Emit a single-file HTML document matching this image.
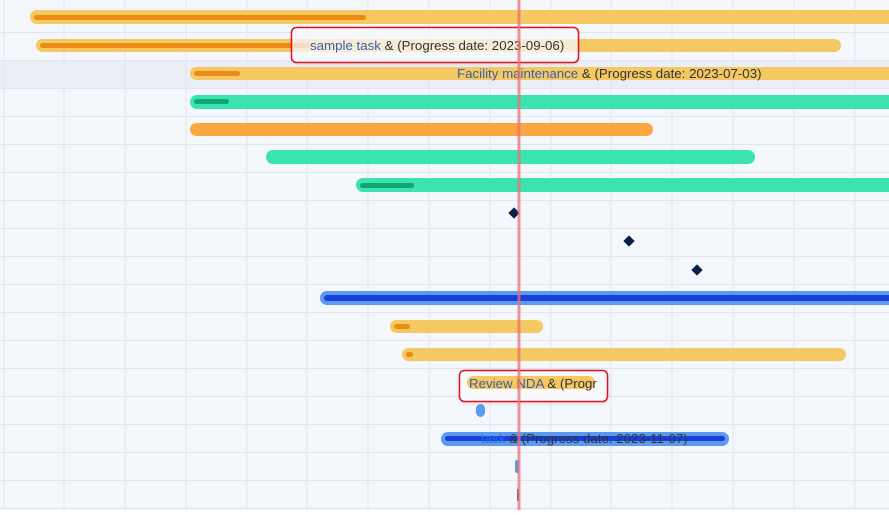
<!DOCTYPE html>
<html><head><meta charset="utf-8"><style>
html,body{margin:0;padding:0;background:#fff}
svg{display:block}
text{font-family:"Liberation Sans",sans-serif;font-size:13.3px}
</style></head><body>
<svg width="889" height="515" viewBox="0 0 889 515" xmlns="http://www.w3.org/2000/svg">
<defs><filter id="sh" x="-10%" y="-30%" width="120%" height="160%"><feDropShadow dx="0" dy="1" stdDeviation="2" flood-color="#000" flood-opacity="0.18"/></filter></defs>
<rect x="0" y="0" width="889" height="510" fill="#f4f8fc"/>
<rect x="0" y="60" width="889" height="28" fill="#ebeef4"/>
<g stroke="#e1e6ee" stroke-width="1">
<line x1="4" y1="0" x2="4" y2="510"/><line x1="64" y1="0" x2="64" y2="510"/><line x1="125" y1="0" x2="125" y2="510"/><line x1="186" y1="0" x2="186" y2="510"/><line x1="247" y1="0" x2="247" y2="510"/><line x1="307" y1="0" x2="307" y2="510"/><line x1="368" y1="0" x2="368" y2="510"/><line x1="429" y1="0" x2="429" y2="510"/><line x1="490" y1="0" x2="490" y2="510"/><line x1="551" y1="0" x2="551" y2="510"/><line x1="611" y1="0" x2="611" y2="510"/><line x1="672" y1="0" x2="672" y2="510"/><line x1="733" y1="0" x2="733" y2="510"/><line x1="794" y1="0" x2="794" y2="510"/><line x1="855" y1="0" x2="855" y2="510"/>
<line x1="0" y1="32.5" x2="889" y2="32.5"/><line x1="0" y1="60.5" x2="889" y2="60.5"/><line x1="0" y1="88.5" x2="889" y2="88.5"/><line x1="0" y1="116.5" x2="889" y2="116.5"/><line x1="0" y1="144.5" x2="889" y2="144.5"/><line x1="0" y1="172.5" x2="889" y2="172.5"/><line x1="0" y1="200.5" x2="889" y2="200.5"/><line x1="0" y1="228.5" x2="889" y2="228.5"/><line x1="0" y1="256.5" x2="889" y2="256.5"/><line x1="0" y1="284.5" x2="889" y2="284.5"/><line x1="0" y1="312.5" x2="889" y2="312.5"/><line x1="0" y1="340.5" x2="889" y2="340.5"/><line x1="0" y1="368.5" x2="889" y2="368.5"/><line x1="0" y1="396.5" x2="889" y2="396.5"/><line x1="0" y1="424.5" x2="889" y2="424.5"/><line x1="0" y1="452.5" x2="889" y2="452.5"/><line x1="0" y1="480.5" x2="889" y2="480.5"/><line x1="0" y1="508.5" x2="889" y2="508.5"/>
</g>
<rect x="30" y="10" width="880" height="14" rx="7" fill="#f5c862"/>
<rect x="34" y="15" width="332" height="5" rx="2.5" fill="#ea8b14"/>
<rect x="36" y="39" width="805" height="13" rx="6.5" fill="#f5c862"/>
<rect x="40" y="43" width="270" height="5" rx="2.5" fill="#ea8b14"/>
<rect x="190" y="67" width="720" height="13" rx="6.5" fill="#f5c862"/>
<rect x="194" y="71" width="46" height="5" rx="2.5" fill="#ea8b14"/>
<text x="457" y="78" fill="#3a5ea8">Facility maintenance <tspan fill="#333">&amp; (Progress date: 2023-07-03)</tspan></text>
<rect x="190" y="95" width="720" height="14" rx="7" fill="#3be3b0"/>
<rect x="194" y="99" width="35" height="5" rx="2.5" fill="#10a86e"/>
<rect x="190" y="123" width="463" height="13" rx="6.5" fill="#fba73f"/>
<rect x="266" y="150" width="489" height="14" rx="7" fill="#3be3b0"/>
<rect x="356" y="178" width="560" height="14" rx="7" fill="#3be3b0"/>
<rect x="360" y="183" width="54" height="5" rx="2.5" fill="#10a86e"/>
<rect x="510" y="209" width="8" height="8" fill="#0b1f4a" transform="rotate(45 514 213)"/>
<rect x="625" y="237" width="8" height="8" fill="#0b1f4a" transform="rotate(45 629 241)"/>
<rect x="693" y="266" width="8" height="8" fill="#0b1f4a" transform="rotate(45 697 270)"/>
<rect x="320" y="291" width="590" height="14" rx="7" fill="#5a9bef"/>
<rect x="324" y="295" width="580" height="6" rx="3" fill="#1840d8"/>
<rect x="390" y="320" width="153" height="13" rx="6.5" fill="#f5c862"/>
<rect x="394" y="324" width="16" height="5" rx="2.5" fill="#ea8b14"/>
<rect x="402" y="348" width="444" height="13" rx="6.5" fill="#f5c862"/>
<rect x="406" y="352" width="7" height="5" rx="2.5" fill="#ea8b14"/>
<rect x="459.5" y="370.5" width="148" height="31" rx="5" fill="#f7f9fc" filter="url(#sh)"/>
<rect x="467" y="376" width="128" height="13" rx="6.5" fill="#f5c862"/>
<text x="469" y="388" fill="#3a5ea8">Review NDA <tspan fill="#333">&amp; (Progr</tspan></text>
<rect x="459.5" y="370.5" width="148" height="31" rx="5" fill="none" stroke="#e0141e" stroke-width="1.5"/>
<rect x="476" y="404" width="9" height="13" rx="4.5" fill="#5a9bef"/>
<rect x="441" y="432" width="288" height="14" rx="7" fill="#5a9bef"/>
<rect x="445" y="436" width="280" height="5" rx="2.5" fill="#1840d8"/>
<text x="481" y="443" fill="#2a6ae8">task <tspan fill="#333">&amp; (Progress date: 2023-11-07)</tspan></text>
<rect x="515" y="460" width="4" height="13" rx="2" fill="#5a9bef"/>
<rect x="517" y="489" width="2" height="12" fill="#4a6aa8"/>
<rect x="291.5" y="27.5" width="287" height="35" rx="5" fill="#f7f9fc" opacity="0.75" filter="url(#sh)"/>
<text x="310" y="50" fill="#3a5ea8">sample task <tspan fill="#333">&amp; (Progress date: 2023-09-06)</tspan></text>
<rect x="291.5" y="27.5" width="287" height="35" rx="5" fill="none" stroke="#e0141e" stroke-width="1.5"/>
<rect x="517.5" y="0" width="3" height="510" fill="#ee7070" opacity="0.75"/>
</svg>
</body></html>
